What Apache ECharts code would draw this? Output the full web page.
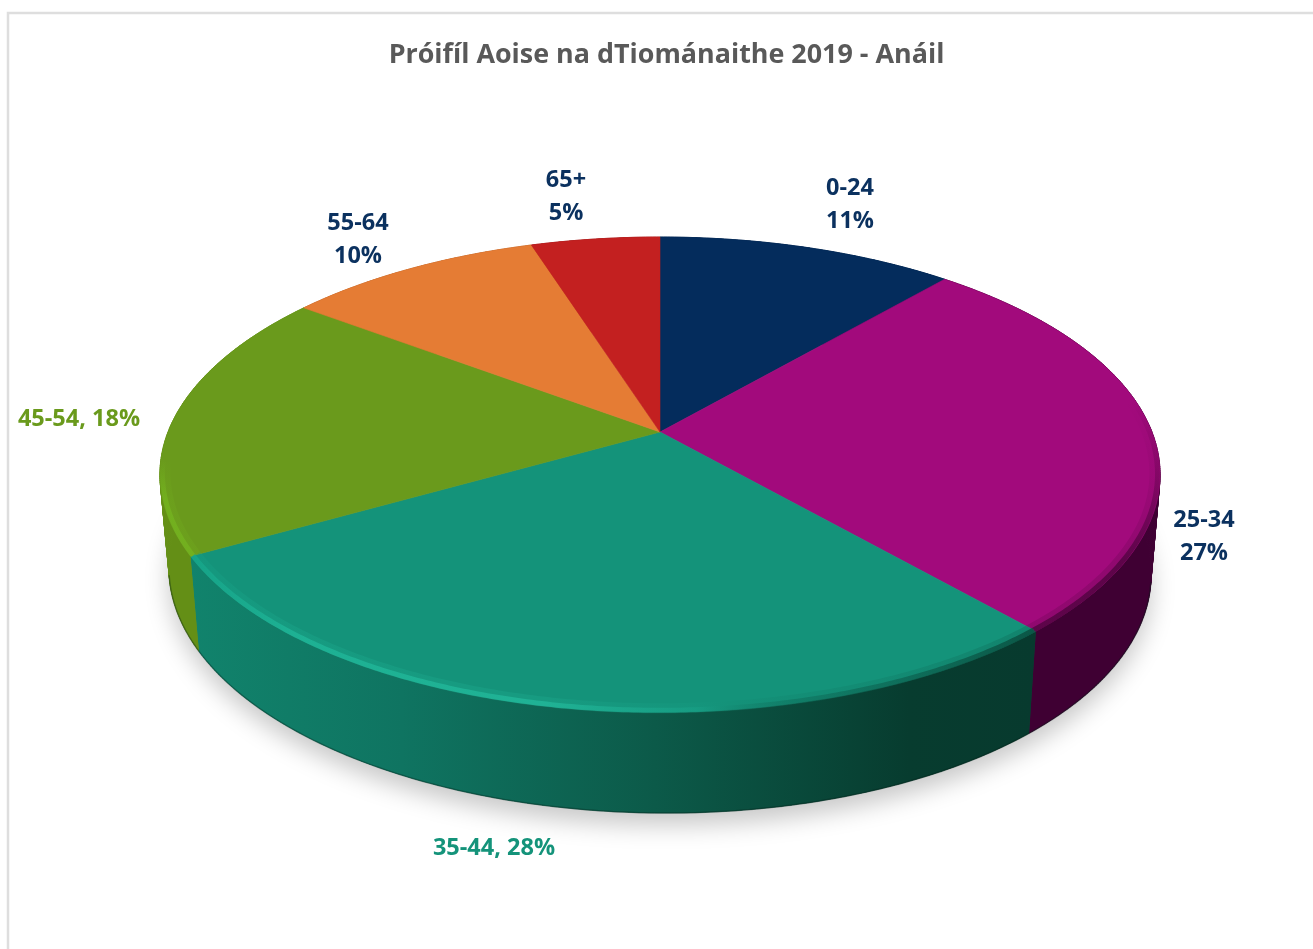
<!DOCTYPE html>
<html><head><meta charset="utf-8">
<style>html,body{margin:0;padding:0;background:#fff}#c{width:1313px;height:949px}</style>
<script src="https://cdn.jsdelivr.net/npm/echarts@6/dist/echarts.min.js"></script>
</head><body><div id="c"></div>
<script>
const chartTitle = 'Próifíl Aoise na dTiománaithe 2019 - Anáil';
const categories = ['0-24','25-34','35-44','45-54','55-64','65+'];
const shares = [11.4,27.1,28.3,18.4,9.85,4.95];

// layout & style
const FONT = '"Open Sans", sans-serif';
const topColors = ['#042C5C','#A20A7C','#14937A','#6A9A1C','#E57C34','#C32020'];
const labelColors = ['#0B315F','#0B315F','#14937A','#6A9A1C','#0B315F','#0B315F'];
const labelSeparators = ['\n','\n',', ',', ','\n','\n'];
const labelAt = [[850,205],[1204,537],[494,848],[79,419],[358,240],[566,197]];
const sideStops = [
  [[0,'#03234A'],[1,'#03234A']],
  [[0,'#3F0033'],[1,'#3F0033']],
  [[0,'#11836C'],[0.25,'#0F7461'],[0.55,'#0C5A49'],[0.85,'#073C2F'],[1,'#073A2E']],
  [[0,'#648F16'],[1,'#648F16']],
  [[0,'#B5622A'],[1,'#B5622A']],
  [[0,'#961A1A'],[1,'#961A1A']]
];
// soft bevel along the front edge of the top face: slice index -> angular part, gradient box, colours
const rimParts = {
  1:{from:0.4,to:1,box:[0,400,0,560],stops:[[0,'rgba(90,4,72,0)'],[1,'rgba(70,2,56,0.85)']]},
  2:{from:0,to:1,box:[192,0,1033,0],stops:[[0,'#16A68A'],[0.12,'#1FB698'],[0.42,'#22B89A'],[0.6,'rgba(24,160,134,0.8)'],[0.72,'rgba(12,100,82,0.5)'],[1,'rgba(8,70,56,0.9)']]},
  3:{from:0,to:0.4,box:[0,460,0,500],stops:[[0,'rgba(116,179,31,0)'],[1,'#74B31F']]}
};
const CX=660, CY=432, AX=492, BY=229.9, K=0.179;   // perspective of the disc
const SX=0.982;                                     // lower rim is a little narrower
const DEPTH=96, DEPTH_X=0.0067, DEPTH_Y=0.0179;     // side height varies across the disc
const FRONT_LIMIT=78;                               // degrees either side of the front for the lower-edge line

function proj(tDeg,r){
  const t=tDeg*Math.PI/180, X=r*Math.sin(t), Y=-r*Math.cos(t), w=1-K*Y;
  return [CX+AX*X/w, CY+BY*Y/w];
}
function low(p){
  return [CX+(p[0]-CX)*SX, p[1]+DEPTH+DEPTH_X*(p[0]-CX)+DEPTH_Y*(p[1]-CY)];
}
function arc(a,b,r){
  const n=Math.max(2,Math.ceil(Math.abs(b-a)*2)), out=[];
  for(let i=0;i<=n;i++) out.push(proj(a+(b-a)*i/n,r));
  return out;
}
const total = shares.reduce((s,v)=>s+v,0);
function bounds(i){
  let s=0; for(let j=0;j<i;j++) s+=shares[j];
  return [s/total*360,(s+shares[i])/total*360];
}
const G = (stops,x0,y0,x1,y1)=> new echarts.graphic.LinearGradient(x0,y0,x1,y1,
  stops.map(s=>({offset:s[0],color:s[1]})),true);

function renderSlice(params){
  const i=params.dataIndex, [a,b]=bounds(i);
  const rim=arc(a,b,1);
  const xs=rim.map(p=>p[0]), x0=Math.min(...xs), x1=Math.max(...xs);
  const kids=[], sideFill=G(sideStops[i],x0,0,x1,0);
  // quads give the tangent silhouette; the solid strip on top of them hides their seams
  for(let k=0;k<rim.length-1;k++){
    kids.push({type:'polygon',z2:1,shape:{points:[rim[k],rim[k+1],low(rim[k+1]),low(rim[k])]},
      style:{fill:sideFill,stroke:sideFill,lineWidth:0.7}});
  }
  kids.push({type:'polygon',z2:2,shape:{points:rim.concat(rim.map(low).reverse())},
    style:{fill:sideFill}});
  const fa=Math.max(a,180-FRONT_LIMIT), fb=Math.min(b,180+FRONT_LIMIT);
  if(fb>fa){
    kids.push({type:'polyline',z2:3,shape:{points:arc(fa,fb,1).map(low)},
      style:{fill:null,stroke:'rgba(0,30,20,0.35)',lineWidth:1.5}});
  }
  kids.push({type:'polygon',z2:4,shape:{points:[[CX,CY]].concat(rim)},
    style:{fill:topColors[i],stroke:topColors[i],lineWidth:0.6}});
  const part=rimParts[i];
  if(part){
    const pa=a+(b-a)*part.from, pb=a+(b-a)*part.to, stroke=G(part.stops,...part.box);
    kids.push({type:'polyline',z2:5,shape:{points:arc(pa,pb,0.989)},
      style:{fill:null,stroke:stroke,lineWidth:10,opacity:0.22}});
    kids.push({type:'polyline',z2:6,shape:{points:arc(pa,pb,0.995)},
      style:{fill:null,stroke:stroke,lineWidth:5,opacity:0.8}});
  }
  kids.push({type:'text',z2:7,x:labelAt[i][0],y:labelAt[i][1],
    style:{text:categories[i]+labelSeparators[i]+Math.round(shares[i])+'%',fill:labelColors[i],
      font:'bold 23.5px '+FONT,lineHeight:33,align:'center',verticalAlign:'middle'}});
  return {type:'group',children:kids};
}
function renderShadow(){
  const pts=arc(0,360,1).map(low);
  return {type:'polygon',shape:{points:pts},
    style:{fill:'#bbbbbb',shadowBlur:24,shadowColor:'rgba(0,0,0,0.22)',shadowOffsetY:12}};
}

const chart = echarts.init(document.getElementById('c'),null,{renderer:'canvas'});
chart.setOption({
  animation:false,
  backgroundColor:'#fff',
  title:{text:chartTitle,left:661.5,top:37,textAlign:'center',
    textStyle:{fontFamily:FONT,fontWeight:'bold',fontSize:26.9,color:'#595959'}},
  tooltip:{show:false},
  graphic:[{type:'polyline',shape:{points:[[8,949],[8,13],[1313,13]]},silent:true,
    style:{fill:null,stroke:'#DEDEDE',lineWidth:2.5}}],
  series:[
    {type:'custom',coordinateSystem:'none',z:1,silent:true,renderItem:renderShadow,data:[0]},
    {type:'custom',coordinateSystem:'none',z:2,silent:true,renderItem:renderSlice,
      data:categories.map((c,i)=>({name:c,value:shares[i]}))}
  ]
});
</script></body></html>
